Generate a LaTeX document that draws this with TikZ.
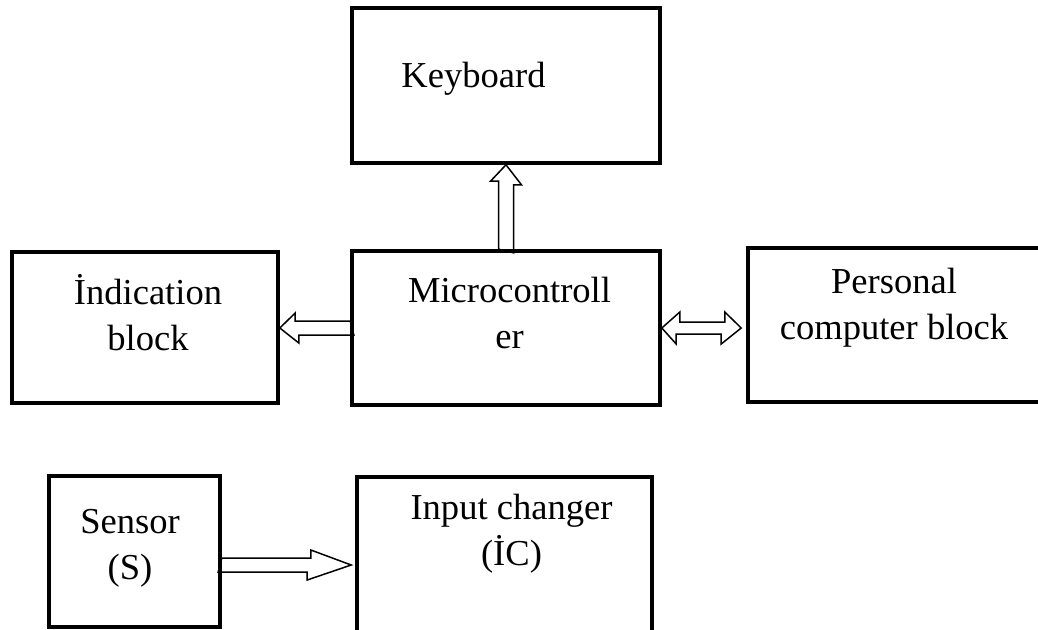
\documentclass[tikz,border=0pt]{standalone}
\usepackage{fontspec}
\setmainfont{Liberation Serif}
\usetikzlibrary{calc}

\tikzset{
  block/.style={draw, line width=2.1pt, inner sep=0pt},
  lbl/.style={font=\fontsize{20.8}{26}\selectfont, align=center, anchor=base, inner sep=0pt},
  hollow/.style={line width=0.85pt, line join=miter}
}

\begin{document}
\begin{tikzpicture}[x=0.02cm, y=-0.02cm]
    \useasboundingbox (0,0) rectangle (1038,629);

    % Blocks
    \node[block, minimum width=6.16cm, minimum height=3.10cm] (kbd) at (506,85.5) {};
    \node[block, minimum width=6.16cm, minimum height=3.08cm] (micro) at (506,328) {};
    \node[block, minimum width=5.32cm, minimum height=3.02cm] (ind) at (145,327.5) {};
    \node[block, minimum width=5.94cm, minimum height=3.08cm] (pc) at (896.5,325) {};
    \node[block, minimum width=3.42cm, minimum height=3.02cm] (sensor) at (134.5,551.5) {};
    \node[block, minimum width=5.90cm, minimum height=3.26cm] (ic) at (504.5,558.5) {};

    % Labels
    \node[lbl] (kbdtxt) at (473.5,87) {Keyboard};
    \node[lbl] (indtxt) at (148,350) {İndication\\block};
    \node[lbl] (microtxt) at (509.5,348) {Microcontroll\\er};
    \node[lbl] (pctxt) at (894,339) {Personal\\computer block};
    \node[lbl] (sensortxt) at (130,579) {Sensor\\(S)};
    \node[lbl] (ictxt) at (511.5,565) {Input changer\\(İC)};

    % Microcontroller -> keyboard
    \draw[hollow] ([xshift=-0.15cm]micro.north) -- ++(0,-68) -- ++(-8,0) -- (kbd.south)
        -- ++(15.5,20) -- ++(-8,0) -- ++(0,68) -- cycle;

    % Microcontroller -> indication block
    \draw[hollow] ([yshift=0.14cm]micro.west) -- ++(-55,0) -- ++(0,-8) -- (ind.east |- micro.west)
        -- ++(19,15) -- ++(0,-8) -- ++(55,0) -- cycle;

    % Microcontroller <-> personal computer
    \coordinate (pctip) at ($(pc.west |- micro.east)+(-5,0)$);
    \draw[hollow] (micro.east) -- ++(18,-16) -- ++(0,10) -- ++(45,0) -- ++(0,-10) -- (pctip)
        -- ++(-20,16) -- ++(0,-10) -- ++(-45,0) -- ++(0,10) -- cycle;

    % Sensor -> input changer
    \coordinate (stip) at ($(ic.west |- sensor.east)+(-4,13.5)$);
    \draw[hollow] ($(sensor.east)+(0,6.5)$) -- ++(89,0) -- ++(0,-8) -- (stip)
        -- ++(-44,15) -- ++(0,-8) -- ++(-89,0) -- cycle;
\end{tikzpicture}
\end{document}
